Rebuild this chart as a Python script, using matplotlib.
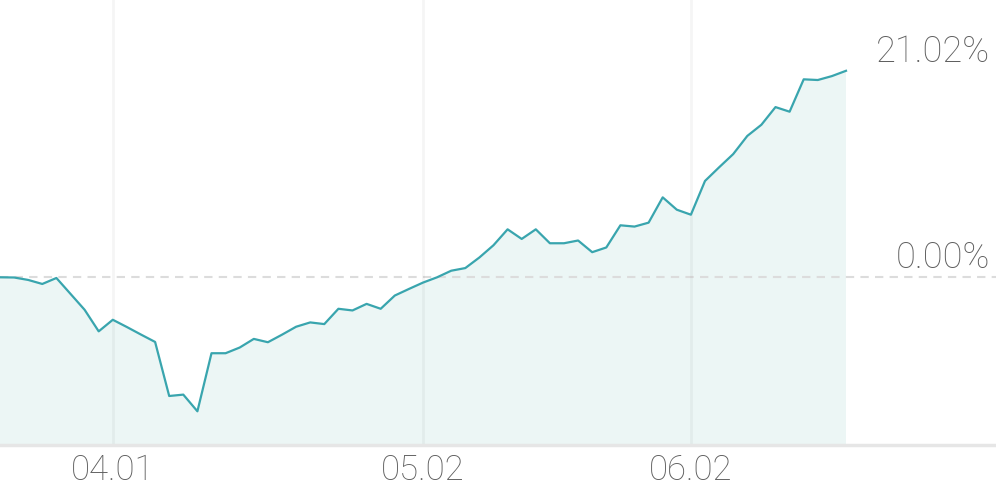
"""
plot.py

Cumulative return chart with a shaded area under the line.
"""

import matplotlib
matplotlib.use("Agg")
import matplotlib.pyplot as plt


# daily cumulative return in %, one value per trading day
returns = [
    -0.03, -0.05, -0.30, -0.71, -0.10, -1.72, -3.34, -5.54, -4.36, -5.10,
    -5.87, -6.62, -12.13, -11.99, -13.69, -7.77, -7.77, -7.19, -6.31, -6.65,
    -5.88, -5.07, -4.63, -4.80, -3.24, -3.41, -2.74, -3.24, -1.89, -1.22,
    -0.57, -0.03, 0.64, 0.91, 1.99, 3.24, 4.86, 3.88, 4.86, 3.44,
    3.44, 3.72, 2.53, 3.01, 5.27, 5.14, 5.54, 8.12, 6.86, 6.35,
    9.79, 11.18, 12.53, 14.38, 15.52, 17.32, 16.85, 20.15, 20.08, 20.48,
    21.02,
]

tick_positions = [8, 30, 49]
tick_labels = ["04.01", "05.02", "06.02"]

value_labels = [21.02, 0.00]

LINE_COLOR = "#39a5ae"
FILL_COLOR = "#ecf6f5"
TEXT_COLOR = "#5e5e5e"

plt.rcParams["font.family"] = ["Roboto", "DejaVu Sans"]

fig = plt.figure(figsize=(9.96, 4.9), dpi=100)
ax = fig.add_axes([0, 45 / 490, 1, 445 / 490])

days = list(range(len(returns)))

ax.fill_between(days, returns, -100, color=FILL_COLOR, linewidth=0, zorder=1)
ax.plot(days, returns, color=LINE_COLOR, linewidth=1.6, zorder=3)

# zero reference line
ax.axhline(0, color="#dcdcdc", linewidth=1.5, linestyle=(0, (4, 3)), zorder=2)

# month gridlines
for pos in tick_positions:
    ax.axvline(pos, color="black", alpha=0.04, linewidth=2, zorder=2)

ax.set_xlim(0, 996 / 14.1)
ax.set_ylim(-168 / 9.81, 277 / 9.81)

ax.set_xticks(tick_positions)
ax.set_xticklabels(tick_labels, fontsize=25, color=TEXT_COLOR, fontweight="light")
ax.tick_params(axis="x", length=0, pad=6)
ax.set_yticks([])

for name in ["top", "right", "left"]:
    ax.spines[name].set_visible(False)
ax.spines["bottom"].set_color("#e6e6e6")
ax.spines["bottom"].set_linewidth(2.5)

for val in value_labels:
    ax.annotate(
        f"{val:.2f}%",
        xy=(1, val),
        xycoords=("axes fraction", "data"),
        xytext=(-6, 19),
        textcoords="offset pixels",
        ha="right",
        va="center",
        fontsize=26,
        fontweight="light",
        color=TEXT_COLOR,
    )

fig.savefig("out.png", dpi=100)
plt.close(fig)
